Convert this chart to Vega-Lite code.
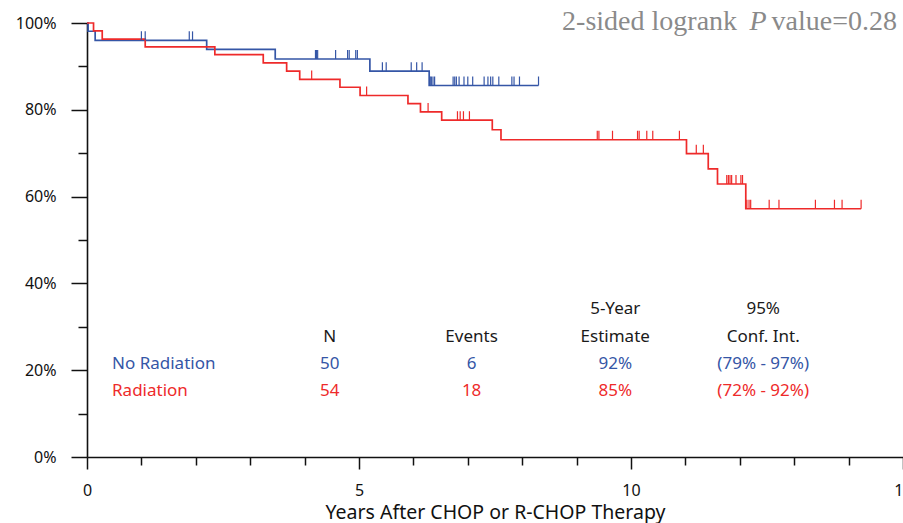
{
  "$schema": "https://vega.github.io/schema/vega-lite/v6.json",
  "autosize": {"type": "none"},
  "width": 816,
  "height": 434,
  "padding": {"left": 87, "top": 23, "right": 0, "bottom": 66},
  "background": "white",
  "config": {
    "view": {"stroke": null},
    "axis": {
      "domainColor": "#111",
      "domainWidth": 1.6,
      "tickColor": "#111",
      "tickWidth": 1.5,
      "labelFont": "Noto Sans",
      "labelFontSize": 16,
      "labelColor": "#111",
      "titleFont": "Noto Sans",
      "titleFontSize": 19.5,
      "titleFontWeight": "normal",
      "titleColor": "#111",
      "grid": false
    }
  },
  "datasets": {
    "curves": [
      {"t": 0, "s": 100, "grp": "No Radiation"},
      {"t": 0.02, "s": 98.1, "grp": "No Radiation"},
      {"t": 0.15, "s": 96.0, "grp": "No Radiation"},
      {"t": 2.20, "s": 93.9, "grp": "No Radiation"},
      {"t": 3.46, "s": 91.7, "grp": "No Radiation"},
      {"t": 5.20, "s": 88.9, "grp": "No Radiation"},
      {"t": 6.29, "s": 85.6, "grp": "No Radiation"},
      {"t": 8.30, "s": 85.6, "grp": "No Radiation"},
      {"t": 0, "s": 100, "grp": "Radiation"},
      {"t": 0.12, "s": 98.2, "grp": "Radiation"},
      {"t": 0.28, "s": 96.3, "grp": "Radiation"},
      {"t": 1.07, "s": 94.5, "grp": "Radiation"},
      {"t": 2.35, "s": 92.7, "grp": "Radiation"},
      {"t": 3.24, "s": 90.8, "grp": "Radiation"},
      {"t": 3.67, "s": 88.9, "grp": "Radiation"},
      {"t": 3.91, "s": 87.0, "grp": "Radiation"},
      {"t": 4.65, "s": 85.2, "grp": "Radiation"},
      {"t": 5.02, "s": 83.3, "grp": "Radiation"},
      {"t": 5.90, "s": 81.4, "grp": "Radiation"},
      {"t": 6.13, "s": 79.5, "grp": "Radiation"},
      {"t": 6.52, "s": 77.6, "grp": "Radiation"},
      {"t": 7.45, "s": 75.4, "grp": "Radiation"},
      {"t": 7.61, "s": 73.1, "grp": "Radiation"},
      {"t": 11.02, "s": 69.9, "grp": "Radiation"},
      {"t": 11.42, "s": 66.4, "grp": "Radiation"},
      {"t": 11.59, "s": 62.9, "grp": "Radiation"},
      {"t": 12.11, "s": 57.2, "grp": "Radiation"},
      {"t": 14.23, "s": 57.2, "grp": "Radiation"}
    ],
    "censors": [
      {"t": 1.00, "s": 96.0, "grp": "No Radiation"},
      {"t": 1.07, "s": 96.0, "grp": "No Radiation"},
      {"t": 1.88, "s": 96.0, "grp": "No Radiation"},
      {"t": 1.94, "s": 96.0, "grp": "No Radiation"},
      {"t": 4.20, "s": 91.7, "grp": "No Radiation"},
      {"t": 4.22, "s": 91.7, "grp": "No Radiation"},
      {"t": 4.24, "s": 91.7, "grp": "No Radiation"},
      {"t": 4.57, "s": 91.7, "grp": "No Radiation"},
      {"t": 4.79, "s": 91.7, "grp": "No Radiation"},
      {"t": 4.82, "s": 91.7, "grp": "No Radiation"},
      {"t": 4.94, "s": 91.7, "grp": "No Radiation"},
      {"t": 4.97, "s": 91.7, "grp": "No Radiation"},
      {"t": 5.43, "s": 88.9, "grp": "No Radiation"},
      {"t": 5.50, "s": 88.9, "grp": "No Radiation"},
      {"t": 5.96, "s": 88.9, "grp": "No Radiation"},
      {"t": 6.06, "s": 88.9, "grp": "No Radiation"},
      {"t": 6.16, "s": 88.9, "grp": "No Radiation"},
      {"t": 6.31, "s": 85.6, "grp": "No Radiation"},
      {"t": 6.33, "s": 85.6, "grp": "No Radiation"},
      {"t": 6.36, "s": 85.6, "grp": "No Radiation"},
      {"t": 6.39, "s": 85.6, "grp": "No Radiation"},
      {"t": 6.73, "s": 85.6, "grp": "No Radiation"},
      {"t": 6.76, "s": 85.6, "grp": "No Radiation"},
      {"t": 6.79, "s": 85.6, "grp": "No Radiation"},
      {"t": 6.84, "s": 85.6, "grp": "No Radiation"},
      {"t": 6.93, "s": 85.6, "grp": "No Radiation"},
      {"t": 7.00, "s": 85.6, "grp": "No Radiation"},
      {"t": 7.09, "s": 85.6, "grp": "No Radiation"},
      {"t": 7.30, "s": 85.6, "grp": "No Radiation"},
      {"t": 7.37, "s": 85.6, "grp": "No Radiation"},
      {"t": 7.42, "s": 85.6, "grp": "No Radiation"},
      {"t": 7.46, "s": 85.6, "grp": "No Radiation"},
      {"t": 7.57, "s": 85.6, "grp": "No Radiation"},
      {"t": 7.81, "s": 85.6, "grp": "No Radiation"},
      {"t": 7.85, "s": 85.6, "grp": "No Radiation"},
      {"t": 7.95, "s": 85.6, "grp": "No Radiation"},
      {"t": 8.30, "s": 85.6, "grp": "No Radiation"},
      {"t": 4.13, "s": 87.0, "grp": "Radiation"},
      {"t": 5.14, "s": 83.3, "grp": "Radiation"},
      {"t": 6.27, "s": 79.5, "grp": "Radiation"},
      {"t": 6.81, "s": 77.6, "grp": "Radiation"},
      {"t": 6.86, "s": 77.6, "grp": "Radiation"},
      {"t": 6.92, "s": 77.6, "grp": "Radiation"},
      {"t": 7.03, "s": 77.6, "grp": "Radiation"},
      {"t": 9.38, "s": 73.1, "grp": "Radiation"},
      {"t": 9.41, "s": 73.1, "grp": "Radiation"},
      {"t": 9.66, "s": 73.1, "grp": "Radiation"},
      {"t": 10.12, "s": 73.1, "grp": "Radiation"},
      {"t": 10.15, "s": 73.1, "grp": "Radiation"},
      {"t": 10.29, "s": 73.1, "grp": "Radiation"},
      {"t": 10.40, "s": 73.1, "grp": "Radiation"},
      {"t": 10.89, "s": 73.1, "grp": "Radiation"},
      {"t": 11.20, "s": 69.9, "grp": "Radiation"},
      {"t": 11.33, "s": 69.9, "grp": "Radiation"},
      {"t": 11.76, "s": 62.9, "grp": "Radiation"},
      {"t": 11.79, "s": 62.9, "grp": "Radiation"},
      {"t": 11.82, "s": 62.9, "grp": "Radiation"},
      {"t": 11.85, "s": 62.9, "grp": "Radiation"},
      {"t": 11.93, "s": 62.9, "grp": "Radiation"},
      {"t": 12.02, "s": 62.9, "grp": "Radiation"},
      {"t": 12.05, "s": 62.9, "grp": "Radiation"},
      {"t": 12.13, "s": 57.2, "grp": "Radiation"},
      {"t": 12.17, "s": 57.2, "grp": "Radiation"},
      {"t": 12.20, "s": 57.2, "grp": "Radiation"},
      {"t": 12.54, "s": 57.2, "grp": "Radiation"},
      {"t": 12.72, "s": 57.2, "grp": "Radiation"},
      {"t": 13.39, "s": 57.2, "grp": "Radiation"},
      {"t": 13.74, "s": 57.2, "grp": "Radiation"},
      {"t": 13.88, "s": 57.2, "grp": "Radiation"},
      {"t": 14.23, "s": 57.2, "grp": "Radiation"}
    ],
    "rowlabels": [
      {"t": 0.46, "s": 21.5, "txt": "No Radiation", "grp": "No Radiation"},
      {"t": 0.46, "s": 15.3, "txt": "Radiation", "grp": "Radiation"}
    ],
    "cells": [
      {"t": 9.71, "s": 34.2, "txt": "5-Year", "grp": "header"},
      {"t": 12.43, "s": 34.2, "txt": "95%", "grp": "header"},
      {"t": 4.46, "s": 27.7, "txt": "N", "grp": "header"},
      {"t": 7.07, "s": 27.7, "txt": "Events", "grp": "header"},
      {"t": 9.71, "s": 27.7, "txt": "Estimate", "grp": "header"},
      {"t": 12.43, "s": 27.7, "txt": "Conf. Int.", "grp": "header"},
      {"t": 4.46, "s": 21.5, "txt": "50", "grp": "No Radiation"},
      {"t": 7.07, "s": 21.5, "txt": "6", "grp": "No Radiation"},
      {"t": 9.71, "s": 21.5, "txt": "92%", "grp": "No Radiation"},
      {"t": 12.43, "s": 21.5, "txt": "(79% - 97%)", "grp": "No Radiation"},
      {"t": 4.46, "s": 15.3, "txt": "54", "grp": "Radiation"},
      {"t": 7.07, "s": 15.3, "txt": "18", "grp": "Radiation"},
      {"t": 9.71, "s": 15.3, "txt": "85%", "grp": "Radiation"},
      {"t": 12.43, "s": 15.3, "txt": "(72% - 92%)", "grp": "Radiation"}
    ],
    "pnormal": [
      {"t": 11.95, "s": 98.4, "txt": "2-sided logrank"},
      {"t": 14.89, "s": 98.4, "txt": "value=0.28"}
    ],
    "pitalic": [
      {"t": 12.18, "s": 98.4, "txt": "P"}
    ]
  },
  "layer": [
    {
      "data": {"name": "curves"},
      "mark": {"type": "line", "interpolate": "step-after", "strokeWidth": 1.7},
      "encoding": {
        "x": {
          "field": "t", "type": "quantitative",
          "scale": {"domain": [0, 15], "nice": false, "zero": false},
          "axis": {
            "values": [0, 1, 2, 3, 4, 5, 6, 7, 8, 9, 10, 11, 12, 13, 14, 15],
            "tickSize": {"condition": {"test": "datum.value % 5 === 0", "value": 12}, "value": 8},
            "labelExpr": "datum.value % 5 === 0 ? datum.label : ''",
            "labelPadding": 13,
            "labelFlush": false,
            "labelOverlap": false,
            "title": "Years After CHOP or R-CHOP Therapy",
            "titlePadding": 5
          }
        },
        "y": {
          "field": "s", "type": "quantitative",
          "scale": {"domain": [0, 100], "nice": false},
          "axis": {
            "values": [0, 10, 20, 30, 40, 50, 60, 70, 80, 90, 100],
            "tickSize": {"condition": {"test": "datum.value % 20 === 0", "value": 16}, "value": 9},
            "labelExpr": "datum.value % 20 === 0 ? datum.value + '%' : ''",
            "labelPadding": 15,
            "labelOverlap": false,
            "title": null
          }
        },
        "color": {
          "field": "grp", "type": "nominal",
          "scale": {"domain": ["No Radiation", "Radiation", "header"], "range": ["#3556a6", "#ee2a2a", "#1a1a1a"]},
          "legend": null
        }
      }
    },
    {
      "data": {"name": "censors"},
      "mark": {"type": "tick", "orient": "vertical", "size": 9, "thickness": 1.2, "yOffset": -4.5, "opacity": 1},
      "encoding": {
        "x": {"field": "t", "type": "quantitative"},
        "y": {"field": "s", "type": "quantitative"},
        "color": {"field": "grp", "type": "nominal", "legend": null}
      }
    },
    {
      "data": {"name": "rowlabels"},
      "mark": {"type": "text", "align": "left", "baseline": "middle", "font": "Noto Sans", "fontSize": 17},
      "encoding": {
        "x": {"field": "t", "type": "quantitative"},
        "y": {"field": "s", "type": "quantitative"},
        "text": {"field": "txt"},
        "color": {"field": "grp", "type": "nominal", "legend": null}
      }
    },
    {
      "data": {"name": "cells"},
      "mark": {"type": "text", "align": "center", "baseline": "middle", "font": "Noto Sans", "fontSize": 17},
      "encoding": {
        "x": {"field": "t", "type": "quantitative"},
        "y": {"field": "s", "type": "quantitative"},
        "text": {"field": "txt"},
        "color": {"field": "grp", "type": "nominal", "legend": null}
      }
    },
    {
      "data": {"name": "pnormal"},
      "mark": {"type": "text", "align": "right", "baseline": "alphabetic", "font": "Liberation Serif", "fontSize": 28, "color": "#8a8a8a"},
      "encoding": {
        "x": {"field": "t", "type": "quantitative"},
        "y": {"field": "s", "type": "quantitative"},
        "text": {"field": "txt"}
      }
    },
    {
      "data": {"name": "pitalic"},
      "mark": {"type": "text", "align": "left", "baseline": "alphabetic", "font": "Liberation Serif", "fontSize": 28, "fontStyle": "italic", "color": "#8a8a8a"},
      "encoding": {
        "x": {"field": "t", "type": "quantitative"},
        "y": {"field": "s", "type": "quantitative"},
        "text": {"field": "txt"}
      }
    }
  ]
}
